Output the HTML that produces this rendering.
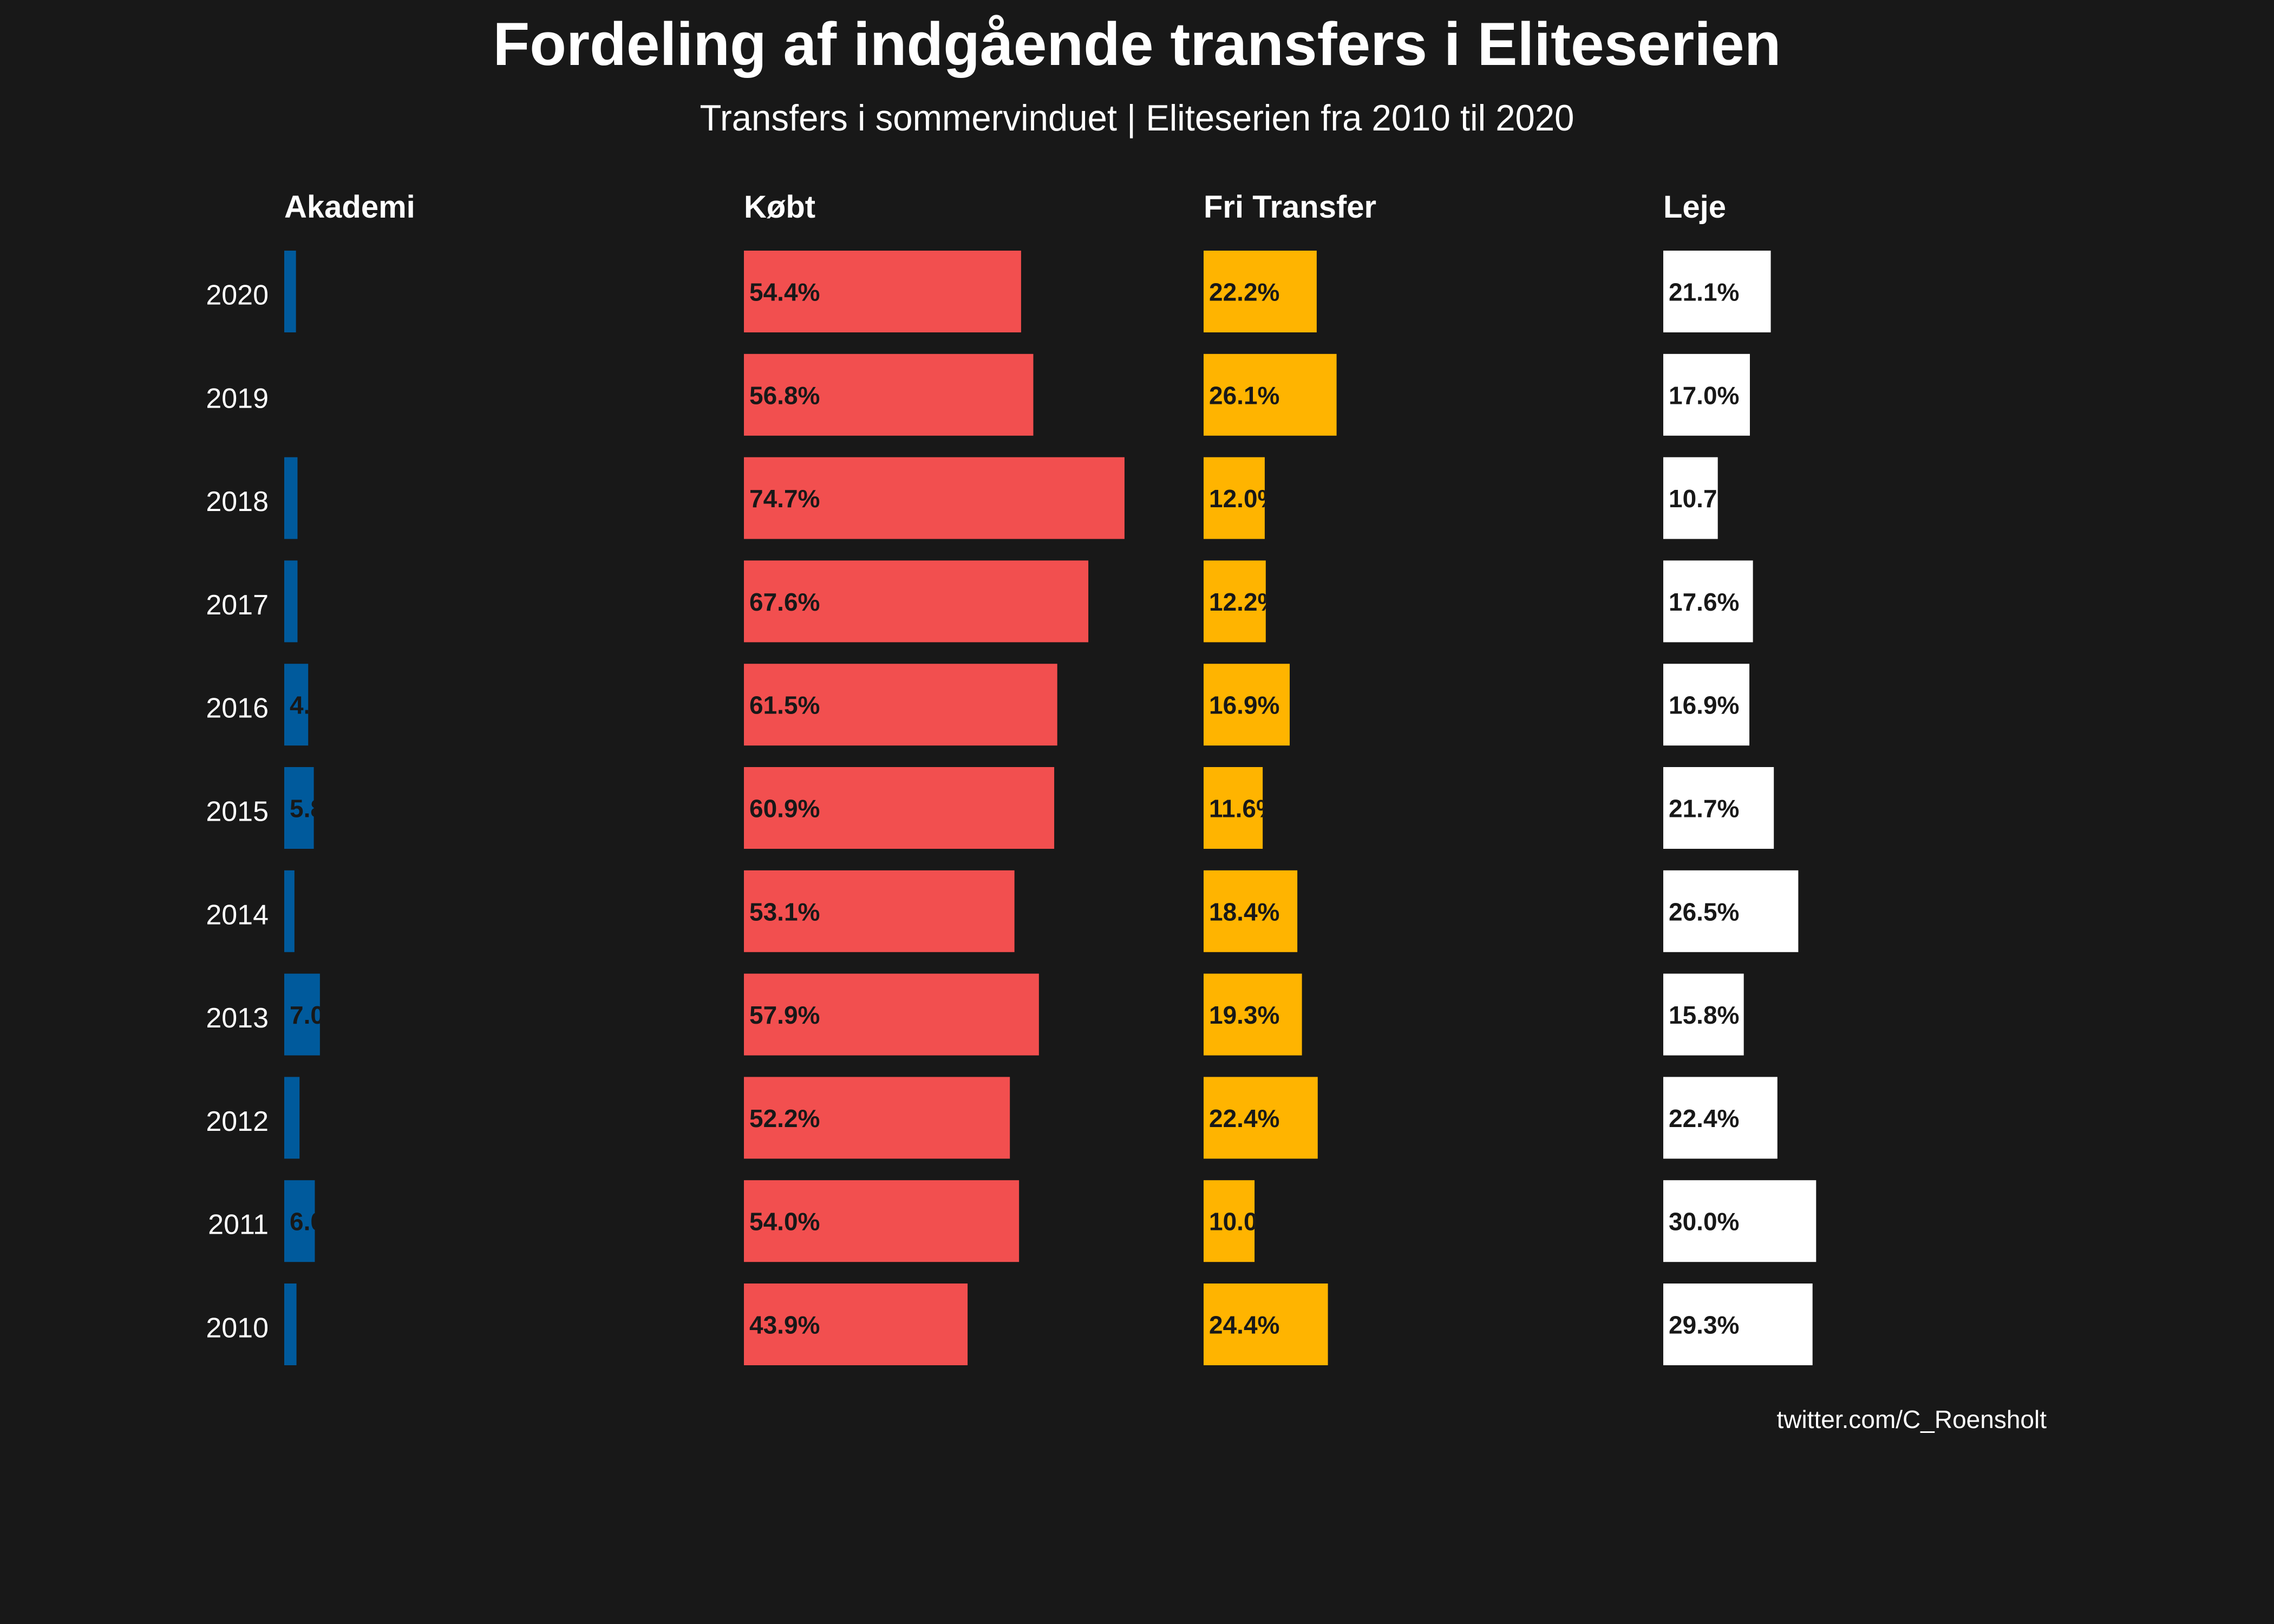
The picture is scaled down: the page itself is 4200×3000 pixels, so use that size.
<!DOCTYPE html>
<html><head><meta charset="utf-8"><style>
html,body{margin:0;padding:0;background:#181818;}
svg{display:block;}
text{font-family:"Liberation Sans",sans-serif;}
</style></head><body>
<svg id="chart" width="4200" height="3000" viewBox="0 0 4200 3000" xmlns="http://www.w3.org/2000/svg">
<rect width="4200" height="3000" fill="#181818"/>
<text x="2100" y="120" text-anchor="middle" fill="#fff" font-weight="bold" font-size="112" textLength="2379" lengthAdjust="spacingAndGlyphs">Fordeling af indgående transfers i Eliteserien</text>
<text x="2100" y="241" text-anchor="middle" fill="#fff" font-size="68" textLength="1615" lengthAdjust="spacingAndGlyphs">Transfers i sommervinduet | Eliteserien fra 2010 til 2020</text>
<text x="3780" y="2638" text-anchor="end" fill="#fff" font-size="46">twitter.com/C_Roensholt</text>
<g id="plot"></g>
</svg>
<script>
const years = ["2020","2019","2018","2017","2016","2015","2014","2013","2012","2011","2010"];
const categories = ["Akademi","Købt","Fri Transfer","Leje"];
const akademi = [2.3,0.1,2.6,2.6,4.7,5.8,2.0,7.0,3.0,6.0,2.4];
const kobt = [54.4,56.8,74.7,67.6,61.5,60.9,53.1,57.9,52.2,54.0,43.9];
const friTransfer = [22.2,26.1,12.0,12.2,16.9,11.6,18.4,19.3,22.4,10.0,24.4];
const leje = [21.1,17.0,10.7,17.6,16.9,21.7,26.5,15.8,22.4,30.0,29.3];

const series = [akademi,kobt,friTransfer,leje];
const colors = ["#005a9c","#f24f4f","#ffb400","#ffffff"];
const NS = "http://www.w3.org/2000/svg";
const plot = document.getElementById('plot');
const panelX0 = 525, panelStep = 849, pxPerPct = 9.41;
const rowY0 = 463, rowStep = 190.8, barH = 151;
function xScale(p, v){ return panelX0 + p*panelStep + v*pxPerPct; }
function yScale(i){ return rowY0 + i*rowStep; }
function mk(tag, attrs){ const e=document.createElementNS(NS,tag); for(const k in attrs) e.setAttribute(k,attrs[k]); return e; }

const defs = mk('defs',{}); plot.appendChild(defs);
years.forEach((y,i)=>{
  const t = mk('text',{x:496,y:yScale(i)+barH/2+24,'text-anchor':'end',fill:'#fff','font-size':52});
  
  
  t.textContent = y; plot.appendChild(t);
});
categories.forEach((c,p)=>{
  const h = mk('text',{x:xScale(p,0),y:402,fill:'#fff','font-size':58,'font-weight':'bold'});
  
  
  h.textContent = c; plot.appendChild(h);
  series[p].forEach((v,i)=>{
    const x0 = xScale(p,0), w = xScale(p,v)-x0, y = yScale(i);
    const cid = 'clip-'+p+'-'+i;
    const cp = mk('clipPath',{id:cid}); cp.appendChild(mk('rect',{x:x0,y:y,width:Math.max(w,0),height:barH})); defs.appendChild(cp);
    const g = mk('g',{});
    
    
    if (v >= 0.5) {
      const r = mk('rect',{x:x0,y:y,width:w,height:barH,fill:colors[p]});
      
      
      g.appendChild(r);
      if (v >= 4) {
        const t = mk('text',{x:x0+10,y:y+barH/2+17,fill:'#181818','font-size':46,'font-weight':'bold','clip-path':'url(#'+cid+')'});
        
        
        t.textContent = v.toFixed(1)+'%';
        g.appendChild(t);
      }
    }
    plot.appendChild(g);
  });
});
</script>
</body></html>
